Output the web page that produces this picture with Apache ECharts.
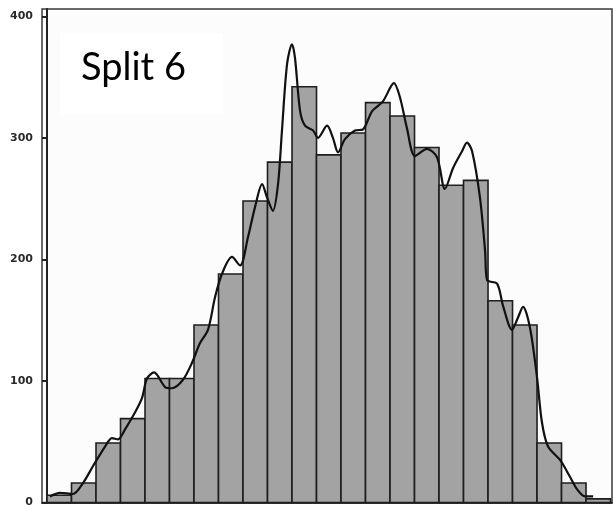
<!DOCTYPE html>
<html>
<head>
<meta charset="utf-8">
<title>Split 6</title>
<script src="https://cdn.jsdelivr.net/npm/echarts@6/dist/echarts.min.js"></script>
<style>
  html, body { margin: 0; padding: 0; background: #ffffff; }
  #chart { width: 613px; height: 508px; }
</style>
</head>
<body>
<div id="chart"></div>
<script>
// Histogram counts, one per bin (bin i spans [i, i+1) on the x axis)
const binCounts = [6, 16, 49, 69, 102, 102, 146, 188, 248, 280, 342, 286,
                   304, 329, 318, 292, 261, 265, 166, 146, 49, 16, 3];

// Density curve, x in bin units and y in count units
const curveX = [0.12, 0.53, 1.06, 1.47, 1.88, 2.37, 2.65, 2.90, 3.18, 3.59, 3.88, 4.08,
                4.37, 4.82, 5.10, 5.55, 5.92, 6.24, 6.57, 6.86, 7.14, 7.55, 7.88, 8.20,
                8.49, 8.78, 8.98, 9.22, 9.43, 9.59, 9.80, 10.00, 10.12, 10.33, 10.53, 10.86,
                11.06, 11.43, 11.67, 11.88, 12.16, 12.57, 12.90, 13.27, 13.71, 14.16, 14.41, 14.69,
                15.02, 15.51, 15.92, 16.24, 16.57, 16.94, 17.14, 17.35, 17.67, 17.88, 17.96, 18.37,
                18.61, 18.98, 19.22, 19.43, 19.71, 20.00, 20.20, 20.45, 20.94, 21.35, 21.63, 21.96,
                22.29];
const curveY = [5, 8, 7, 16, 30, 46, 53, 52, 60, 74, 86, 102,
                107, 95, 94, 101, 115, 131, 142, 169, 188, 202, 195, 218,
                243, 262, 251, 240, 262, 306, 361, 377, 366, 322, 310, 306,
                300, 310, 300, 288, 299, 306, 307, 322, 330, 345, 333, 308,
                285, 291, 284, 258, 275, 289, 296, 289, 251, 207, 183, 180,
                162, 142, 152, 161, 144, 103, 66, 46, 35, 21, 11, 5,
                5];

// Y-axis tick values
const yTicks = [0, 100, 200, 300, 400];

const title = 'Split 6';

const chart = echarts.init(document.getElementById('chart'), null, { renderer: 'canvas' });

const option = {
  backgroundColor: '#ffffff',
  animation: false,
  grid: {
    left: 42, right: 1, top: 9, bottom: 4,
    show: true,
    backgroundColor: '#fcfcfc',
    borderColor: '#3a3a3a',
    borderWidth: 1.5
  },
  xAxis: {
    type: 'value',
    min: -0.204,
    max: 23.06,
    axisLine: { show: true, onZero: false, lineStyle: { color: '#333', width: 2 } },
    axisTick: { show: false },
    axisLabel: { show: false },
    splitLine: { show: false }
  },
  yAxis: {
    type: 'value',
    min: 0,
    max: 406,
    axisLine: { show: true, lineStyle: { color: '#222', width: 2 } },
    axisTick: {
      show: true, length: 5, customValues: yTicks,
      lineStyle: { color: '#222', width: 2 }
    },
    axisLabel: {
      customValues: yTicks,
      margin: 9,
      color: '#2a2a2a',
      fontFamily: 'DejaVu Sans',
      fontWeight: 'bold',
      fontSize: 11
    },
    splitLine: { show: false }
  },
  graphic: [
    {
      type: 'rect',
      shape: { x: 60, y: 33, width: 163, height: 82 },
      style: { fill: '#ffffff' },
      z: 1
    },
    {
      type: 'text',
      x: 81,
      y: 68,
      style: {
        text: title,
        font: '38px Lato',
        fill: '#000000',
        textVerticalAlign: 'middle'
      },
      z: 2
    }
  ],
  series: [
    {
      type: 'custom',
      data: binCounts.map((v, i) => [i, v]),
      encode: { x: 0, y: 1 },
      z: 3,
      renderItem: function (params, api) {
        const i = api.value(0);
        const h = api.value(1);
        const p0 = api.coord([i, 0]);
        const p1 = api.coord([i + 1, h]);
        return {
          type: 'rect',
          shape: { x: p0[0], y: p1[1], width: p1[0] - p0[0], height: p0[1] - p1[1] },
          style: { fill: '#a3a3a3', stroke: '#1e1e1e', lineWidth: 1.6 }
        };
      }
    },
    {
      type: 'line',
      data: curveX.map((x, i) => [x, curveY[i]]),
      smooth: 0.3,
      showSymbol: false,
      symbol: 'none',
      z: 4,
      lineStyle: { color: '#111', width: 2.2 }
    }
  ]
};

chart.setOption(option);
</script>
</body>
</html>
